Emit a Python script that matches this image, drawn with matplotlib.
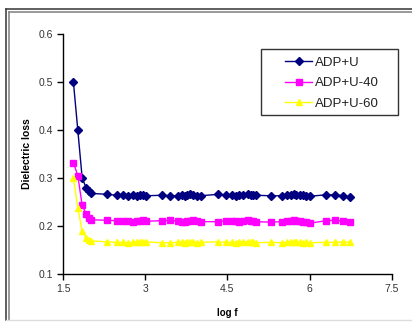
import matplotlib
matplotlib.use("Agg")
import matplotlib.pyplot as plt
from matplotlib.patches import Rectangle
from matplotlib.legend_handler import HandlerLine2D

plt.rcParams['font.family'] = ['Liberation Sans', 'DejaVu Sans']

# log f values (same for every series)
log_f = [1.69, 1.77, 1.85, 1.92, 1.98, 2.01, 2.30, 2.48, 2.60, 2.69,
         2.77, 2.85, 2.91, 2.96, 3.01, 3.30, 3.46, 3.60, 3.67, 3.72,
         3.77, 3.82, 3.88, 3.95, 4.01, 4.33, 4.48, 4.59, 4.66, 4.72,
         4.79, 4.88, 4.93, 4.97, 5.02, 5.30, 5.49, 5.58, 5.67, 5.71,
         5.76, 5.82, 5.88, 5.94, 6.01, 6.30, 6.46, 6.62, 6.74]

adp_u = [0.500, 0.400, 0.300, 0.280, 0.272, 0.268, 0.266, 0.264, 0.264, 0.263,
         0.264, 0.263, 0.265, 0.264, 0.263, 0.264, 0.263, 0.263, 0.264, 0.263,
         0.264, 0.266, 0.264, 0.263, 0.263, 0.266, 0.264, 0.264, 0.263, 0.264,
         0.265, 0.266, 0.265, 0.264, 0.264, 0.263, 0.263, 0.264, 0.265, 0.266,
         0.264, 0.265, 0.264, 0.263, 0.262, 0.265, 0.265, 0.263, 0.261]

adp_u40 = [0.332, 0.305, 0.243, 0.226, 0.216, 0.213, 0.212, 0.211, 0.211, 0.210,
           0.209, 0.210, 0.211, 0.212, 0.210, 0.211, 0.212, 0.210, 0.209, 0.209,
           0.210, 0.211, 0.212, 0.210, 0.209, 0.209, 0.211, 0.210, 0.210, 0.209,
           0.210, 0.212, 0.211, 0.210, 0.209, 0.208, 0.209, 0.210, 0.211, 0.212,
           0.211, 0.210, 0.209, 0.208, 0.206, 0.211, 0.212, 0.210, 0.209]

adp_u60 = [0.300, 0.238, 0.189, 0.175, 0.171, 0.169, 0.167, 0.166, 0.166, 0.165,
           0.166, 0.167, 0.166, 0.166, 0.167, 0.165, 0.165, 0.166, 0.166, 0.165,
           0.166, 0.167, 0.166, 0.165, 0.166, 0.167, 0.166, 0.166, 0.165, 0.166,
           0.167, 0.167, 0.166, 0.166, 0.165, 0.166, 0.165, 0.166, 0.167, 0.167,
           0.166, 0.166, 0.165, 0.166, 0.165, 0.166, 0.166, 0.167, 0.166]

x_ticks = [1.5, 3, 4.5, 6, 7.5]
y_ticks = [0.1, 0.2, 0.3, 0.4, 0.5, 0.6]

W, H = 412, 323
fig = plt.figure(figsize=(W / 100, H / 100), dpi=100)
ax = fig.add_axes([63 / W, 1 - 274 / H, (391.7 - 63) / W, (274 - 34) / H])

ax.plot(log_f, adp_u, color='#000080', lw=1, marker='D', ms=4,
        label='ADP+U')
ax.plot(log_f, adp_u40, color='#ff00ff', lw=1, marker='s', ms=4.5,
        label='ADP+U-40')
ax.plot(log_f, adp_u60, color='#ffff00', lw=1, marker='^', ms=5,
        label='ADP+U-60')

ax.set_xlim(1.5, 7.5)
ax.set_ylim(0.1, 0.6)
ax.set_xticks(x_ticks)
ax.set_xticklabels(['1.5', '3', '4.5', '6', '7.5'])
ax.set_yticks(y_ticks)
ax.set_yticklabels(['0.1', '0.2', '0.3', '0.4', '0.5', '0.6'])
for s in ['top', 'right']:
    ax.spines[s].set_visible(False)
for s in ['left', 'bottom']:
    ax.spines[s].set_color('black')
    ax.spines[s].set_linewidth(1)
ax.tick_params(direction='out', length=4, width=1, labelsize=7.5,
               labelcolor='#333333', pad=3)

ax.set_xlabel('log f', fontsize=7, fontweight='bold', labelpad=10)
ax.set_ylabel('Dielectric loss', fontsize=7.5, fontweight='bold', labelpad=5)

# legend: frame drawn separately so the padding matches the original box
leg = ax.legend(loc='upper left', bbox_to_anchor=(261 / W, 1 - 50 / H),
                bbox_transform=fig.transFigure,
                fontsize=9.5, frameon=False,
                borderpad=0.5, handlelength=3.4, handletextpad=0.2,
                labelspacing=0.62, borderaxespad=0,
                handler_map={plt.Line2D: HandlerLine2D(xpad=1.3)})
for t in leg.get_texts():
    t.set_color('#222222')
fig.add_artist(Rectangle((261 / W, 1 - 115 / H), (398 - 261) / W, (115 - 49) / H,
                         transform=fig.transFigure, fill=False,
                         edgecolor='#333333', lw=1))

# outer chart border (double line)
for off, c in [(0, '#444444'), (3, '#888888')]:
    fig.add_artist(plt.Line2D([(6 + off) / W, (6 + off) / W], [1 - (9 + off) / H, 1 - 320 / H],
                              transform=fig.transFigure, color=c, lw=1.2))
    fig.add_artist(plt.Line2D([(6 + off) / W, 1], [1 - (9 + off) / H, 1 - (9 + off) / H],
                              transform=fig.transFigure, color=c, lw=1.2))
fig.add_artist(plt.Line2D([6 / W, 1], [1 - 320 / H, 1 - 320 / H],
                          transform=fig.transFigure, color='#dddddd', lw=1))

fig.savefig('out.png', dpi=100)
